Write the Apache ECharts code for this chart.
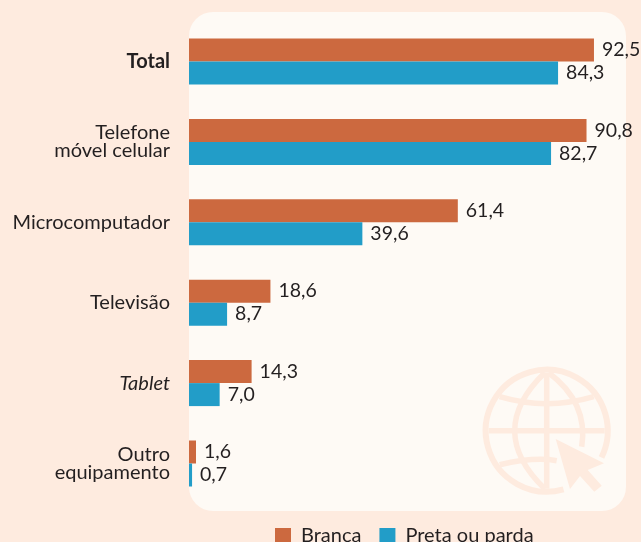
<!DOCTYPE html>
<html>
<head>
<meta charset="utf-8">
<style>
  html, body { margin: 0; padding: 0; background: #feebdf; overflow: hidden; }
  #chart { width: 641px; height: 542px; }
</style>
<script src="https://cdn.jsdelivr.net/npm/echarts@6/dist/echarts.min.js"></script>
</head>
<body>
<div id="chart"></div>
<script>
const categories = ['Total', 'Telefone\nmóvel celular', 'Microcomputador', 'Televisão', 'Tablet', 'Outro\nequipamento']
const branca = [92.5, 90.8, 61.4, 18.6, 14.3, 1.6]
const pretaParda = [84.3, 82.7, 39.6, 8.7, 7.0, 0.7]

const bgColor = '#feebdf'
const panelColor = '#fefaf5'
const textColor = '#231f20'
const font = 'Lato'

// ícone do globo no canto do painel
const gx = 546.7, gy = 430.7
const curve = (x1, y1, cx, cy, x2, y2) => ({
  type: 'bezierCurve',
  silent: true,
  shape: { x1: gx + x1, y1: gy + y1, cpx1: gx + cx, cpy1: gy + cy, x2: gx + x2, y2: gy + y2 },
  style: { stroke: bgColor, lineWidth: 5.5, fill: null }
})
const globe = [
  {
    type: 'arc', silent: true,
    shape: { cx: gx, cy: gy, r: 61, startAngle: 74 * Math.PI / 180, endAngle: (360 + 26) * Math.PI / 180 },
    style: { stroke: bgColor, lineWidth: 6, fill: null }
  },
  curve(-58, 0, 58, 0, 58, 0),
  curve(0, -58, 0, 0, 0, 58),
  curve(-47, -34, 0, -20, 47, -34),
  curve(-47, 34, -12, 26, 10, 30),
  curve(-2, -58, -62, 0, -2, 58),
  curve(2, -58, 42, -28, 35, 16),
  {
    type: 'polygon', silent: true,
    shape: { points: [[555.7, 439], [604, 463.3], [587.7, 470], [601.7, 485.7], [594.3, 491.7], [580, 476], [570, 489]] },
    style: { fill: bgColor }
  }
]

const numLabel = {
  show: true,
  position: 'right',
  distance: 8,
  color: textColor,
  fontFamily: font,
  fontSize: 19.5,
  formatter: p => p.value.toFixed(1).replace('.', ',')
}

const option = {
  animation: false,
  backgroundColor: bgColor,
  graphic: [
    {
      type: 'rect',
      silent: true,
      shape: { x: 189, y: 12, width: 437, height: 499, r: 24 },
      style: { fill: panelColor }
    },
    ...globe
  ],
  grid: { left: 189, top: 21.3, width: 437.8, height: 482.4, containLabel: false },
  legend: {
    left: 275,
    top: 526,
    padding: 0,
    itemWidth: 16,
    itemHeight: 16,
    itemGap: 18,
    icon: 'rect',
    textStyle: { color: textColor, fontFamily: font, fontSize: 20, padding: [0, 0, 0, 5] },
    data: ['Branca', 'Preta ou parda']
  },
  xAxis: { type: 'value', min: 0, max: 100, show: false },
  yAxis: {
    type: 'category',
    inverse: true,
    data: categories,
    axisLine: { show: false },
    axisTick: { show: false },
    axisLabel: {
      margin: 19,
      color: textColor,
      fontFamily: font,
      fontSize: 20,
      lineHeight: 18,
      align: 'right',
      formatter: v => {
        if (v === 'Total') return '{b|Total}'
        if (v === 'Tablet') return '{i|Tablet}'
        return v
      },
      rich: {
        b: { fontFamily: font, fontSize: 20, fontWeight: 'bold', color: textColor },
        i: { fontFamily: font, fontSize: 20, fontStyle: 'italic', color: textColor }
      }
    }
  },
  series: [
    {
      name: 'Branca', type: 'bar', data: branca, barWidth: 23, barGap: 0,
      itemStyle: { color: '#cc693f' }, label: numLabel
    },
    {
      name: 'Preta ou parda', type: 'bar', data: pretaParda, barWidth: 23,
      itemStyle: { color: '#229dc8' }, label: numLabel
    }
  ]
}

const mychart = echarts.init(document.getElementById('chart'))
mychart.setOption(option)
</script>
</body>
</html>
